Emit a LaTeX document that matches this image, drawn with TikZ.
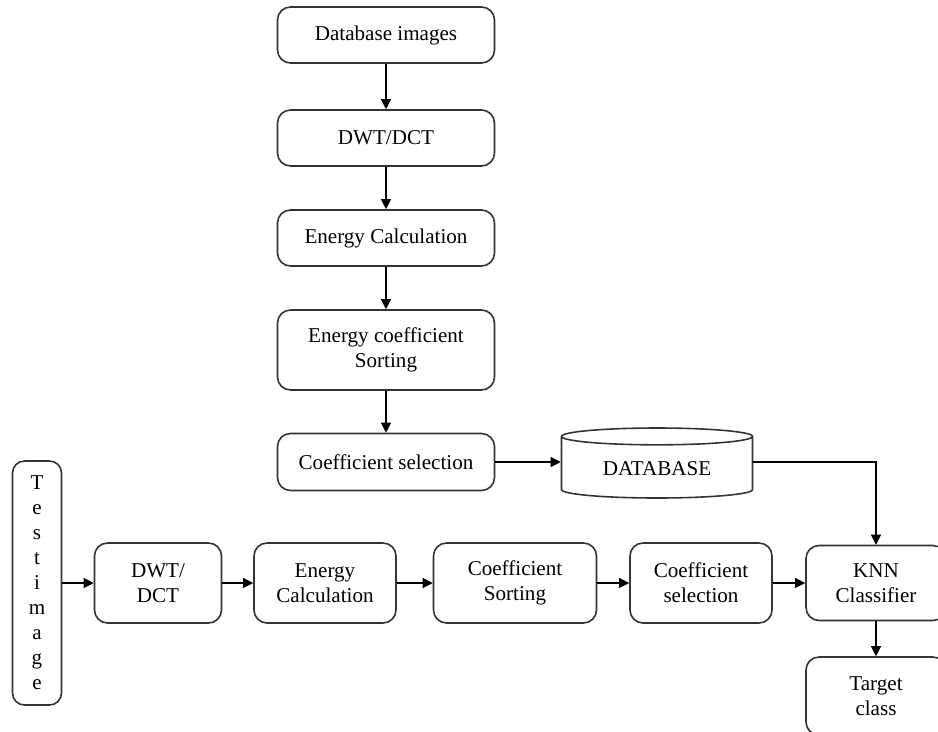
\documentclass[tikz,border=0pt]{standalone}
\usepackage{fontspec}
\setmainfont{Liberation Serif}
\usetikzlibrary{arrows.meta,positioning,shapes.geometric}
\tikzset{
  >={Triangle[length=2mm,width=2mm]},
  stage/.style={draw=black!80,rounded corners=2.6mm,line width=0.9pt,
    minimum width=#1,minimum height=11.2mm,align=center,inner sep=1pt,
    font=\fontsize{12}{14.2}\selectfont},
  stage/.default=43.4mm,
  store/.style={cylinder,shape border rotate=90,aspect=0.14,draw=black!80,
    line width=0.9pt,minimum width=38.2mm,minimum height=14mm,
    anchor=shape center,font=\fontsize{12}{14.2}\selectfont},
  link/.style={->,line width=0.6pt},
}

\begin{document}
\begin{tikzpicture}[x=0.2mm,y=-0.2mm]
    \useasboundingbox (0,0) rectangle (938,731);
    % database side
    \node[stage] (d1) at (386,35) {Database images};
    \node[stage] (d2) at (386,138) {DWT/DCT};
    \node[stage] (d3) at (386,238) {Energy Calculation};
    \node[stage,minimum height=16mm] (d4) at (386,350) {Energy coefficient\\Sorting};
    \node[stage,minimum height=11.4mm] (d5) at (386,462) {Coefficient selection};
    \node[store] (db) at (657,463) {DATABASE};
    % test side
    \node[stage=9.8mm,minimum height=48.8mm,rounded corners=2.4mm] (t0) at (37,583)
      {T\\e\\s\\t\\i\\m\\a\\g\\e};
    \node[stage=25.4mm,minimum height=16mm] (t1) at (158,583) {DWT/\\DCT};
    \node[stage=28.4mm,minimum height=16mm] (t2) at (325,583) {Energy\\Calculation};
    \node[stage=32.6mm,minimum height=16mm] (t3) at (515,583) {Coefficient\\Sorting};
    \node[stage=28.4mm,minimum height=16mm] (t4) at (701,583) {Coefficient\\selection};
    \node[stage=28mm,minimum height=15mm] (knn) at (876,583) {KNN\\Classifier};
    \node[stage=28mm,minimum height=15.6mm] (tc) at (876,696) {Target\\class};
    \foreach \a/\b in {d1/d2,d2/d3,d3/d4,d4/d5,t0/t1,t1/t2,t2/t3,t3/t4,t4/knn,knn/tc}
      \draw[link] (\a) -- (\b);
    \draw[link] (d5.east) -- (d5.east -| db.west);
    \draw[link] (d5.east -| db.east) -| (knn.north);
\end{tikzpicture}
\end{document}
